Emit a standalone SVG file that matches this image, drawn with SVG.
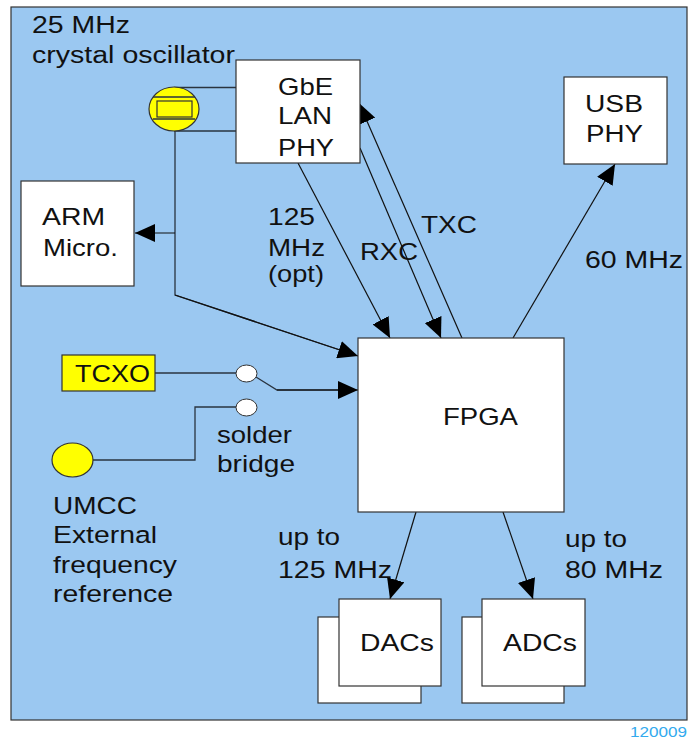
<svg xmlns="http://www.w3.org/2000/svg" width="696" height="740" viewBox="0 0 696 740">
<style>
  text{font-family:"Liberation Sans",Arial,sans-serif;font-size:24.5px;fill:#111}
  .sm{font-size:23px}
  .box{fill:#fff;stroke:#333;stroke-width:1.2}
  .wire{fill:none;stroke:#2a3440;stroke-width:1.3}
  .arr{fill:none;stroke:#111;stroke-width:1.2;marker-end:url(#ah)}
  .yel{fill:#ffff00;stroke:#333;stroke-width:1.2}
  .pad{fill:#fff;stroke:#333;stroke-width:1}
</style>
<defs>
  <marker id="ah" markerUnits="userSpaceOnUse" markerWidth="20" markerHeight="18" viewBox="0 0 20 18" refX="20" refY="9" orient="auto">
    <path d="M0,0 L20,9 L0,18 z" fill="#000"/>
  </marker>
</defs>
<rect width="696" height="740" fill="#fff"/>
<rect x="11" y="7" width="676" height="713" fill="#9bc8f1" stroke="#333" stroke-width="1.2"/>

<g id="labels">
  <text class="sm" x="32" y="33" textLength="98" lengthAdjust="spacingAndGlyphs">25 MHz</text>
  <text class="sm" x="32" y="63" textLength="203" lengthAdjust="spacingAndGlyphs">crystal oscillator</text>
  <text x="268" y="225" textLength="47" lengthAdjust="spacingAndGlyphs">125</text>
  <text x="268" y="256" textLength="57" lengthAdjust="spacingAndGlyphs">MHz</text>
  <text x="268" y="282" textLength="56" lengthAdjust="spacingAndGlyphs">(opt)</text>
  <text x="360" y="260" textLength="58" lengthAdjust="spacingAndGlyphs">RXC</text>
  <text x="421" y="233" textLength="56" lengthAdjust="spacingAndGlyphs">TXC</text>
  <text x="585" y="268" textLength="98" lengthAdjust="spacingAndGlyphs">60 MHz</text>
  <text x="217" y="443" textLength="75" lengthAdjust="spacingAndGlyphs">solder</text>
  <text x="217" y="472" textLength="78" lengthAdjust="spacingAndGlyphs">bridge</text>
  <text x="53" y="514" textLength="84" lengthAdjust="spacingAndGlyphs">UMCC</text>
  <text x="53" y="543" textLength="104" lengthAdjust="spacingAndGlyphs">External</text>
  <text x="53" y="573" textLength="124" lengthAdjust="spacingAndGlyphs">frequency</text>
  <text x="53" y="602" textLength="120" lengthAdjust="spacingAndGlyphs">reference</text>
  <text x="278" y="545" textLength="62" lengthAdjust="spacingAndGlyphs">up to</text>
  <text x="278" y="578" textLength="114" lengthAdjust="spacingAndGlyphs">125 MHz</text>
  <text x="565" y="547" textLength="62" lengthAdjust="spacingAndGlyphs">up to</text>
  <text x="565" y="578" textLength="98" lengthAdjust="spacingAndGlyphs">80 MHz</text>
  <text x="687" y="737" text-anchor="end" style="font-size:14px;fill:#33aaee" textLength="57" lengthAdjust="spacingAndGlyphs">120009</text>
</g>

<g id="connectors">
  <path class="wire" d="M174,87.5 H236 M174,131 H236 M174,87.5 V97 M174,119 V131"/>
  <path class="wire" d="M175,131 V295 L340,350"/>
  <line class="arr" x1="175" y1="295" x2="358" y2="356"/>
  <line class="arr" x1="175" y1="233" x2="135" y2="233"/>
  <line class="arr" x1="298" y1="163" x2="390" y2="338"/>
  <line class="arr" x1="360" y1="148" x2="441" y2="338"/>
  <line class="arr" x1="462" y1="338" x2="359" y2="103"/>
  <line class="arr" x1="513" y1="338" x2="615" y2="164"/>
  <line class="arr" x1="416" y1="512" x2="390" y2="599"/>
  <line class="arr" x1="503" y1="512" x2="533" y2="599"/>
  <path class="wire" d="M155,373 H236"/>
  <path class="wire" d="M256,377 L277,390 H340"/>
  <line class="arr" x1="277" y1="390" x2="358" y2="390"/>
  <path class="wire" d="M236,407 H195 V460 H93"/>
</g>

<g id="crystal">
  <ellipse class="yel" cx="174" cy="109" rx="25" ry="22"/>
  <path class="wire" d="M153,97 H195 M153,119 H195"/>
  <rect class="yel" x="157" y="101" width="35" height="16"/>
</g>

<g id="gbe">
  <rect class="box" x="236" y="60" width="124" height="103"/>
  <text x="278" y="95" textLength="55" lengthAdjust="spacingAndGlyphs">GbE</text>
  <text x="278" y="124" textLength="54" lengthAdjust="spacingAndGlyphs">LAN</text>
  <text x="278" y="156" textLength="56" lengthAdjust="spacingAndGlyphs">PHY</text>
</g>

<g id="usb">
  <rect class="box" x="564" y="77" width="103" height="87"/>
  <text x="585" y="112" textLength="58" lengthAdjust="spacingAndGlyphs">USB</text>
  <text x="586" y="142" textLength="57" lengthAdjust="spacingAndGlyphs">PHY</text>
</g>

<g id="arm">
  <rect class="box" x="21" y="181" width="113" height="105"/>
  <text x="42" y="225" textLength="63" lengthAdjust="spacingAndGlyphs">ARM</text>
  <text x="43" y="256" textLength="75" lengthAdjust="spacingAndGlyphs">Micro.</text>
</g>

<g id="fpga">
  <rect class="box" x="358" y="338" width="206" height="174"/>
  <text x="443" y="425" textLength="75" lengthAdjust="spacingAndGlyphs">FPGA</text>
</g>

<g id="tcxo">
  <rect class="yel" x="62" y="355" width="93" height="36"/>
  <text x="75" y="382" textLength="75" lengthAdjust="spacingAndGlyphs">TCXO</text>
</g>

<g id="switch">
  <ellipse class="pad" cx="246.5" cy="373.5" rx="10.5" ry="8.5"/>
  <ellipse class="pad" cx="246.5" cy="407.5" rx="10.5" ry="8.5"/>
</g>

<g id="umcc">
  <ellipse class="yel" cx="72.5" cy="460" rx="20.5" ry="17"/>
</g>

<g id="dacs">
  <rect class="box" x="318" y="617" width="103" height="86"/>
  <rect class="box" x="339" y="599" width="102" height="87"/>
  <text x="360" y="651" textLength="74" lengthAdjust="spacingAndGlyphs">DACs</text>
</g>

<g id="adcs">
  <rect class="box" x="462" y="617" width="102" height="86"/>
  <rect class="box" x="482" y="599" width="103" height="87"/>
  <text x="503" y="651" textLength="74" lengthAdjust="spacingAndGlyphs">ADCs</text>
</g>
</svg>
